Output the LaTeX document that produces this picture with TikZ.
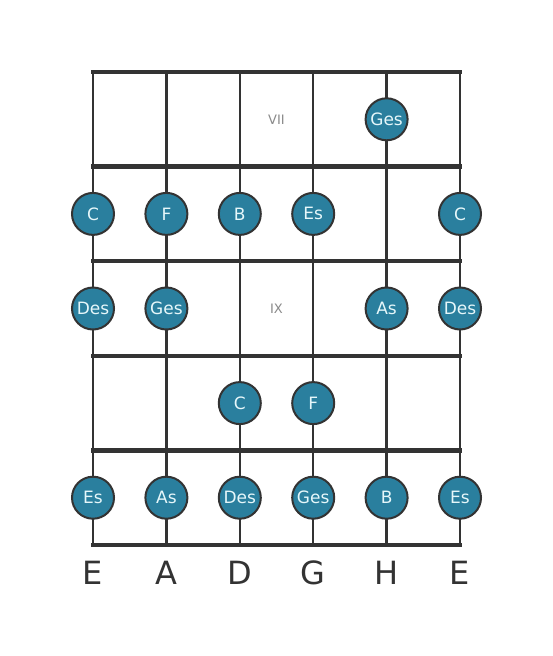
\documentclass[tikz,border=0pt]{standalone}
\usepackage{fontspec}
\setmainfont{DejaVu Sans}
\definecolor{notefill}{HTML}{2A7F9E}
\definecolor{notetext}{HTML}{E6F7FA}
\definecolor{linec}{HTML}{333333}
\definecolor{numc}{HTML}{8A8A8A}
\begin{document}
\begin{tikzpicture}[x=1pt,y=-1pt,
  fretline/.style={line width=4.5pt,draw=linec},
  stringline/.style={line width=2.4pt,draw=linec},
  note/.style={circle,draw=linec,line width=2pt,fill=notefill,minimum size=42pt,inner sep=0pt,text=notetext,font=\fontsize{17}{17}\selectfont},
  numeral/.style={text=numc,font=\fontsize{13}{13}\selectfont},
  strname/.style={text=linec,font=\fontsize{32}{32}\selectfont}]
\useasboundingbox (0,0) rectangle (553,656);
\fill[white] (0,0) rectangle (553,656);
\foreach \i/\x in {1/93,2/166.4,3/239.8,4/313.2,5/386.6,6/460}{
  \coordinate (st\i) at (\x,72);
  \coordinate (sb\i) at (\x,545);
  \draw[stringline] (st\i) -- (sb\i);
}
\foreach \j/\y in {0/72,1/166.6,2/261.2,3/355.8,4/450.4,5/545}{
  \coordinate (fl\j) at (93,\y);
  \coordinate (fr\j) at (460,\y);
  \draw[fretline,line cap=rect] (fl\j) -- (fr\j);
}
\node[numeral] (n7) at (276.5,119.3) {VII};
\node[numeral] (n9) at (276.5,308.5) {IX};
% row 1
\node[note] (r1h) at (386.6,119.3) {Ges};
% row 2
\node[note] (r2e) at (93,213.9) {C};
\node[note] (r2a) at (166.4,213.9) {F};
\node[note] (r2d) at (239.8,213.9) {B};
\node[note] (r2g) at (313.2,213.9) {Es};
\node[note] (r2e2) at (460,213.9) {C};
% row 3
\node[note] (r3e) at (93,308.5) {Des};
\node[note] (r3a) at (166.4,308.5) {Ges};
\node[note] (r3h) at (386.6,308.5) {As};
\node[note] (r3e2) at (460,308.5) {Des};
% row 4
\node[note] (r4d) at (239.8,403.1) {C};
\node[note] (r4g) at (313.2,403.1) {F};
% row 5
\node[note] (r5e) at (93,497.7) {Es};
\node[note] (r5a) at (166.4,497.7) {As};
\node[note] (r5d) at (239.8,497.7) {Des};
\node[note] (r5g) at (313.2,497.7) {Ges};
\node[note] (r5h) at (386.6,497.7) {B};
\node[note] (r5e2) at (460,497.7) {Es};
% string names
\foreach \i/\x/\t in {1/93/E,2/166.4/A,3/239.8/D,4/313.2/G,5/386.6/H,6/460/E}{
  \node[strname] (sn\i) at (\x,573) {\t};
}
\end{tikzpicture}
\end{document}
